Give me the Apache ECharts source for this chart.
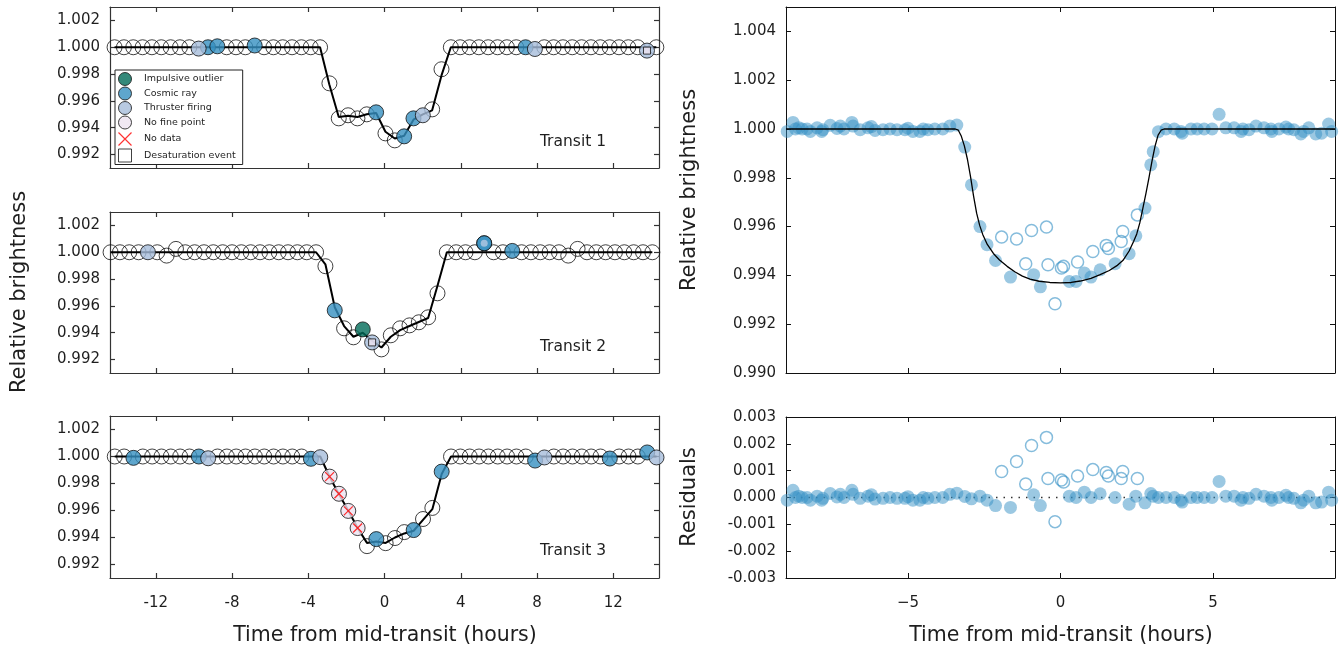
<!DOCTYPE html>
<html><head><meta charset="utf-8">
<script src="https://cdn.jsdelivr.net/npm/echarts@6.0.0/dist/echarts.min.js"></script>
<style>html,body{margin:0;padding:0;background:#fff;}#c{width:1340px;height:649px;}</style>
</head><body><div id="c"></div>
<script>
// ---------------- DATA ----------------
// Left: three individual transits (time in hours, relative brightness)
const t1Time = [-14.16,-13.67,-13.18,-12.69,-12.20,-11.71,-11.22,-10.73,-10.24,-9.75,-9.26,-8.77,-8.28,-7.79,-7.30,-6.81,-6.32,-5.83,-5.34,-4.85,-4.36,-3.87,-3.38,-2.89,-2.40,-1.91,-1.42,-0.93,-0.44,0.05,0.54,1.03,1.52,2.01,2.50,2.99,3.48,3.97,4.46,4.95,5.44,5.93,6.42,6.91,7.40,7.89,8.38,8.87,9.36,9.85,10.34,10.83,11.32,11.81,12.30,12.79,13.28,13.77,14.26];
const t1Flux = [1,1,1,1,1,1,1,1,1,0.99990,1.00000,1.00007,1,1,1,1.00013,1,1,1,1,1,1,1,0.99731,0.99470,0.99493,0.99470,0.99500,0.99515,0.99358,0.99306,0.99336,0.99470,0.99493,0.99537,0.99836,1,1,1,1,1,1,1,1,1.00000,0.99987,1,1,1,1,1,1,1,1,1,1,1,0.99975,1];
const t1Model = [1,1,1,1,1,1,1,1,1,1,1,1,1,1,1,1,1,1,1,1,1,1,1,0.9972,0.9948,0.9949,0.9948,0.9950,0.9951,0.9937,0.9932,0.9934,0.9946,0.9950,0.9953,0.9979,1,1,1,1,1,1,1,1,1,1,1,1,1,1,1,1,1,1,1,1,1,1,1];
const t1Cosmic = [10,11,15,28,31,32,44];
const t1Thruster = [9,33,45,57];
const t1Impulsive = [];
const t1NoFine = [];
const t1NoData = [];
const t1Desat = [57];
const t1CosmicThruster = [];

const t2Time = [-14.37,-13.88,-13.39,-12.90,-12.41,-11.92,-11.43,-10.94,-10.45,-9.96,-9.47,-8.98,-8.49,-8.00,-7.51,-7.02,-6.53,-6.04,-5.55,-5.06,-4.57,-4.08,-3.59,-3.10,-2.61,-2.12,-1.63,-1.14,-0.65,-0.16,0.33,0.82,1.31,1.80,2.29,2.78,3.27,3.76,4.25,4.74,5.23,5.72,6.21,6.70,7.19,7.68,8.17,8.66,9.15,9.64,10.13,10.62,11.11,11.60,12.09,12.58,13.07,13.56,14.05];
const t2Flux = [1,1,1,1,1.00000,1,0.99975,1.00025,1,1,1,1,1,1,1,1,1,1,1,1,1,1,1,0.99896,0.99567,0.99433,0.99366,0.99425,0.99328,0.99276,0.99381,0.99433,0.99455,0.99478,0.99515,0.99694,1,1,1,1,1.00067,1,1,1.00010,1,1,1,1,1,0.99975,1.00025,1,1,1,1,1,1,1,1];
const t2Model = [1,1,1,1,1,1,1,1,1,1,1,1,1,1,1,1,1,1,1,1,1,1,1,0.9991,0.9959,0.9945,0.9937,0.9940,0.9934,0.9929,0.9937,0.9942,0.9945,0.9948,0.9951,0.9975,1,1,1,1,1,1,1,1,1,1,1,1,1,1,1,1,1,1,1,1,1,1,1];
const t2Cosmic = [24,40,43];
const t2Thruster = [4,28];
const t2Impulsive = [27];
const t2NoFine = [];
const t2NoData = [];
const t2Desat = [28];
const t2CosmicThruster = [40];

const t3Time = [-14.15,-13.66,-13.17,-12.68,-12.19,-11.70,-11.21,-10.72,-10.23,-9.74,-9.25,-8.76,-8.27,-7.78,-7.29,-6.80,-6.31,-5.82,-5.33,-4.84,-4.35,-3.86,-3.37,-2.88,-2.39,-1.90,-1.41,-0.92,-0.43,0.06,0.55,1.04,1.53,2.02,2.51,3.00,3.49,3.98,4.47,4.96,5.45,5.94,6.43,6.92,7.41,7.90,8.39,8.88,9.37,9.86,10.35,10.84,11.33,11.82,12.31,12.80,13.29,13.78,14.27];
const t3Flux = [1,1,0.99990,1,1,1,1,1,1,1.00000,0.99987,1,1,1,1,1,1,1,1,1,1,0.99983,0.99995,0.99851,0.99724,0.99597,0.99470,0.99336,0.99388,0.99358,0.99396,0.99440,0.99455,0.99537,0.99619,0.99888,1,1,1,1,1,1,1,1,1,0.99970,0.99993,1,1,1,1,1,1,0.99985,1,1,1,1.00030,0.99993];
const t3Model = [1,1,1,1,1,1,1,1,1,1,1,1,1,1,1,1,1,1,1,1,1,1,1,0.9985,0.9972,0.9960,0.9947,0.9936,0.9937,0.9936,0.9940,0.9943,0.9945,0.9953,0.9961,0.9987,1,1,1,1,1,1,1,1,1,1,1,1,1,1,1,1,1,1,1,1,1,1,1];
const t3Cosmic = [2,9,21,28,32,35,45,53,57];
const t3Thruster = [10,22,46,58];
const t3Impulsive = [];
const t3NoFine = [23,24,25,26];
const t3NoData = [23,24,25,26];
const t3Desat = [];
const t3CosmicThruster = [];

// Right: folded light curve
const foldTime = [-8.96,-8.77,-8.69,-8.58,-8.47,-8.31,-8.20,-7.98,-7.83,-7.79,-7.55,-7.33,-7.22,-7.10,-6.84,-6.80,-6.57,-6.31,-6.20,-6.08,-5.82,-5.59,-5.36,-5.10,-5.00,-4.84,-4.61,-4.50,-4.35,-4.12,-3.86,-3.63,-3.40,
  -3.14,-2.92,-2.64,-2.41,-2.13,-1.64,-0.88,-0.66,0.29,0.51,0.78,1.00,1.30,1.79,2.25,2.47,2.77,2.96,3.04,3.21,
  3.46,3.73,3.95,3.99,4.28,4.48,4.71,4.97,5.20,5.42,5.69,5.92,5.98,6.18,6.41,6.67,6.90,6.93,7.16,7.39,7.48,7.65,7.88,7.97,8.14,8.37,8.56,8.79,8.89];
const foldFlux = [0.99990,1.00027,1.00000,1.00005,1.00000,1.00000,0.99990,1.00005,0.99990,0.99997,1.00015,1.00002,1.00012,1.00000,1.00027,1.00012,0.99997,1.00005,1.00010,0.99994,0.99997,1.00000,0.99997,0.99997,1.00003,0.99990,0.99990,1.00000,0.99997,1.00000,1.00000,1.00012,1.00016,
  0.99926,0.99771,0.99600,0.99526,0.99461,0.99393,0.99403,0.99353,0.99375,0.99375,0.99410,0.99393,0.99423,0.99448,0.99489,0.99562,0.99676,0.99853,0.99907,0.99989,
  1.00000,1.00000,0.99990,0.99983,1.00000,1.00000,1.00000,1.00000,1.00060,1.00005,1.00005,0.99990,1.00000,0.99997,1.00012,1.00005,1.00000,0.99990,1.00000,1.00008,1.00000,0.99997,0.99980,0.99990,1.00005,0.99980,0.99983,1.00020,0.99990];
const foldResid = [-0.00010,0.00027,0.00000,0.00005,0.00000,0.00000,-0.00010,0.00005,-0.00010,-0.00003,0.00015,0.00002,0.00012,0.00000,0.00027,0.00012,-0.00003,0.00005,0.00010,-0.00006,-0.00003,0.00000,-0.00003,-0.00003,0.00003,-0.00010,-0.00010,0.00000,-0.00003,0.00000,0.00000,0.00012,0.00016,
  0.00004,-0.00005,0.00005,-0.00010,-0.00030,-0.00037,0.00010,-0.00030,0.00005,0.00000,0.00020,0.00000,0.00014,0.00000,-0.00025,0.00005,-0.00020,0.00015,0.00005,0.00000,
  0.00000,0.00000,-0.00010,-0.00017,0.00000,0.00000,0.00000,0.00000,0.00060,0.00005,0.00005,-0.00010,0.00000,-0.00003,0.00012,0.00005,0.00000,-0.00010,0.00000,0.00008,0.00000,-0.00003,-0.00020,-0.00010,0.00005,-0.00020,-0.00017,0.00020,-0.00010];
const outTime = [-1.93,-1.44,-1.14,-0.95,-0.46,-0.41,-0.18,0.03,0.10,0.56,1.06,1.50,1.57,1.99,2.04,2.52];
const outFlux = [0.99557,0.99549,0.99448,0.99584,0.99598,0.99444,0.99284,0.99430,0.99437,0.99455,0.99498,0.99523,0.99510,0.99539,0.99580,0.99648];
const outResid = [0.00097,0.00134,0.00050,0.00194,0.00224,0.00071,-0.00090,0.00065,0.00058,0.00080,0.00104,0.00093,0.00080,0.00071,0.00097,0.00071];
const fitTime = [-9,-3.45,-3.35,-3.25,-3.15,-3.05,-2.95,-2.85,-2.75,-2.65,-2.55,-2.40,-2.20,-2.00,-1.75,-1.50,-1.25,-1.00,-0.70,-0.35,0.00,0.35,0.65,1.00,1.30,1.60,1.85,2.05,2.25,2.40,2.50,2.60,2.70,2.80,2.90,3.00,3.10,3.20,3.30,3.40,9];
const fitFlux = [1,1,0.99995,0.99970,0.99930,0.99875,0.99805,0.99725,0.99655,0.99605,0.99568,0.99527,0.99490,0.99463,0.99437,0.99415,0.99397,0.99385,0.99376,0.99371,0.99369,0.99371,0.99377,0.99388,0.99403,0.99420,0.99440,0.99462,0.99500,0.99540,0.99570,0.99615,0.99675,0.99735,0.99800,0.99868,0.99930,0.99975,0.99995,1,1];

// Ticks
const leftXTicks = [-12,-8,-4,0,4,8,12];
const leftYTicks = [0.992,0.994,0.996,0.998,1.000,1.002];
const rightXTicks = [-5,0,5];
const rightYTicks = [0.990,0.992,0.994,0.996,0.998,1.000,1.002,1.004];
const residTicks = [-0.003,-0.002,-0.001,0,0.001,0.002,0.003];
const transitLabels = ['Transit 1','Transit 2','Transit 3'];

// ---------------- BUILD ----------------
const FONT = 'DejaVu Sans';
const TXT = '#1e1e1e';
const COL = {impulsive:'#016c59', cosmic:'#3690c0', thruster:'#a6bddb', nofine:'#ece2f0'};
const grids = [
  {left:110, top:7, width:549, height:161},
  {left:110, top:212, width:549, height:161},
  {left:110, top:416, width:549, height:162},
  {left:786, top:7, width:549, height:366},
  {left:786, top:417, width:549, height:161}
];
const xAxes = [], yAxes = [], series = [];
function addAxes(gi, xr, yr, xTicks, yTicks, showX, xFmt, yFmt, lc, lw) {
  const line = {show:true, onZero:false, lineStyle:{color:lc, width:lw}};
  const tick = (vals) => ({show:true, inside:true, length:5, customValues:vals, lineStyle:{color:lc, width:lw}});
  const lab = {fontSize:15, color:TXT, fontFamily:FONT};
  xAxes.push({gridIndex:gi, type:'value', min:xr[0], max:xr[1], position:'bottom', axisLine:line, axisTick:tick(xTicks),
    axisLabel:Object.assign({show:showX, customValues:xTicks, formatter:xFmt, margin:18}, lab), splitLine:{show:false}});
  xAxes.push({gridIndex:gi, type:'value', min:xr[0], max:xr[1], position:'top', axisLine:line, axisTick:tick(xTicks),
    axisLabel:{show:false}, splitLine:{show:false}});
  yAxes.push({gridIndex:gi, type:'value', min:yr[0], max:yr[1], position:'left', axisLine:line, axisTick:tick(yTicks),
    axisLabel:Object.assign({show:true, customValues:yTicks, formatter:yFmt, margin:10}, lab), splitLine:{show:false}});
  yAxes.push({gridIndex:gi, type:'value', min:yr[0], max:yr[1], position:'right', axisLine:line, axisTick:tick(yTicks),
    axisLabel:{show:false}, splitLine:{show:false}});
}
const f3 = v => v.toFixed(3);
const leftFmt = v => String(v);
const rightFmt = v => v < 0 ? '\u2212' + (-v) : String(v);
for (let g = 0; g < 3; g++) addAxes(g, [-14.4,14.4], [0.991,1.003], leftXTicks, leftYTicks, g === 2, leftFmt, f3, '#333', 1.2);
addAxes(3, [-9,9], [0.990,1.005], rightXTicks, rightYTicks, false, rightFmt, f3, '#111', 1);
addAxes(4, [-9,9], [-0.003,0.003], rightXTicks, residTicks, true, rightFmt, f3, '#111', 1);

const pick = (time, vals, idx) => idx.map(i => [time[i], vals[i]]);
function transit(gi, time, flux, model, fl) {
  const ax = {xAxisIndex:gi*2, yAxisIndex:gi*2};
  const flagged = new Set([].concat(fl.cosmic, fl.thruster, fl.impulsive, fl.nofine, fl.ct));
  const openIdx = time.map((_, i) => i).filter(i => !flagged.has(i));
  const base = {type:'scatter', silent:true, animation:false, symbolSize:15};
  series.push(Object.assign({}, base, ax, {name:'open'+gi, z:2, data:pick(time, flux, openIdx),
    itemStyle:{color:'rgba(255,255,255,0)', borderColor:'#111', borderWidth:1}}));
  series.push(Object.assign({type:'line', silent:true, animation:false, showSymbol:false, symbol:'none', z:3,
    data:time.map((t, i) => [t, model[i]]), lineStyle:{color:'#000', width:2}}, ax));
  const col = (name, idx, c) => series.push(Object.assign({}, base, ax, {name, z:4, data:pick(time, flux, idx),
    itemStyle:{color:c, borderColor:'#111', borderWidth:1}}));
  col('Impulsive outlier', fl.impulsive, COL.impulsive);
  col('Cosmic ray', fl.cosmic.concat(fl.ct), COL.cosmic);
  col('Thruster firing', fl.thruster, COL.thruster);
  col('No fine point', fl.nofine, COL.nofine);
  series.push(Object.assign({}, base, ax, {name:'ct'+gi, z:5, symbolSize:7, data:pick(time, flux, fl.ct),
    itemStyle:{color:'#b4c8e2', borderWidth:0}}));
  series.push(Object.assign({}, base, ax, {name:'No data', z:6, symbol:'path://M0,0L10,10M10,0L0,10', symbolSize:9,
    data:pick(time, flux, fl.nodata), itemStyle:{color:'none', borderColor:'#ff0000', borderWidth:1.3}}));
  series.push(Object.assign({}, base, ax, {name:'Desaturation event', z:6, symbol:'rect', symbolSize:7,
    data:pick(time, flux, fl.desat), itemStyle:{color:COL.nofine, borderColor:'#111', borderWidth:1}}));
}
transit(0, t1Time, t1Flux, t1Model, {cosmic:t1Cosmic, thruster:t1Thruster, impulsive:t1Impulsive, nofine:t1NoFine, nodata:t1NoData, desat:t1Desat, ct:t1CosmicThruster});
transit(1, t2Time, t2Flux, t2Model, {cosmic:t2Cosmic, thruster:t2Thruster, impulsive:t2Impulsive, nofine:t2NoFine, nodata:t2NoData, desat:t2Desat, ct:t2CosmicThruster});
transit(2, t3Time, t3Flux, t3Model, {cosmic:t3Cosmic, thruster:t3Thruster, impulsive:t3Impulsive, nofine:t3NoFine, nodata:t3NoData, desat:t3Desat, ct:t3CosmicThruster});

// right panels
const FILL = 'rgba(52,143,196,0.62)';
const EDGE = 'rgba(52,143,196,0.75)';
const zip = (a, b) => a.map((v, i) => [v, b[i]]);
series.push({type:'scatter', name:'fold', xAxisIndex:6, yAxisIndex:6, silent:true, animation:false, z:2, symbolSize:13,
  data:zip(foldTime, foldFlux), itemStyle:{color:FILL, borderWidth:0}});
series.push({type:'scatter', name:'foldOut', xAxisIndex:6, yAxisIndex:6, silent:true, animation:false, z:2, symbolSize:12,
  data:zip(outTime, outFlux), itemStyle:{color:'rgba(255,255,255,0)', borderColor:EDGE, borderWidth:1.5}});
series.push({type:'line', xAxisIndex:6, yAxisIndex:6, silent:true, animation:false, z:3, showSymbol:false, symbol:'none',
  data:zip(fitTime, fitFlux), lineStyle:{color:'#000', width:1.3}});
series.push({type:'line', xAxisIndex:8, yAxisIndex:8, silent:true, animation:false, z:1, showSymbol:false, symbol:'none',
  data:[[-9,0],[9,0]], lineStyle:{color:'#333', width:1.5, type:[1.5,6]}});
series.push({type:'scatter', name:'resid', xAxisIndex:8, yAxisIndex:8, silent:true, animation:false, z:2, symbolSize:13,
  data:zip(foldTime, foldResid), itemStyle:{color:FILL, borderWidth:0}});
series.push({type:'scatter', name:'residOut', xAxisIndex:8, yAxisIndex:8, silent:true, animation:false, z:2, symbolSize:12,
  data:zip(outTime, outResid), itemStyle:{color:'rgba(255,255,255,0)', borderColor:EDGE, borderWidth:1.5}});

const txt = (text, x, y, size, rot) => ({type:'text', x, y, rotation:rot || 0, silent:true, z:10,
  style:{text, fontSize:size, fontFamily:FONT, fill:TXT, align:'center', verticalAlign:'middle'}});
const graphic = [
  txt('Relative brightness', 20, 292, 21, Math.PI/2),
  txt('Time from mid-transit (hours)', 385, 636, 20.5),
  txt('Relative brightness', 690, 190, 21, Math.PI/2),
  txt('Residuals', 690, 497, 21, Math.PI/2),
  txt('Time from mid-transit (hours)', 1061, 636, 20.5),
  txt(transitLabels[0], 573, 142, 15.5),
  txt(transitLabels[1], 573, 347, 15.5),
  txt(transitLabels[2], 573, 551, 15.5)
];

const legend = {
  left:115, top:70, orient:'vertical', selectedMode:false,
  padding:[2,7,2,1], itemGap:0.5, itemWidth:28, itemHeight:13,
  backgroundColor:'#fff', borderColor:'#222', borderWidth:1, borderRadius:0,
  textStyle:{fontSize:9.5, fontFamily:FONT, color:TXT},
  data:[
    {name:'Impulsive outlier', icon:'circle', itemStyle:{color:COL.impulsive, borderColor:'#111', borderWidth:1}},
    {name:'Cosmic ray', icon:'circle', itemStyle:{color:COL.cosmic, borderColor:'#111', borderWidth:1}},
    {name:'Thruster firing', icon:'circle', itemStyle:{color:COL.thruster, borderColor:'#111', borderWidth:1}},
    {name:'No fine point', icon:'circle', itemStyle:{color:COL.nofine, borderColor:'#111', borderWidth:1}},
    {name:'No data', icon:'path://M0,0L10,10M10,0L0,10', itemStyle:{color:'none', borderColor:'#ff0000', borderWidth:1.2}},
    {name:'Desaturation event', icon:'path://M0,0L10,0L10,10L0,10Z', itemStyle:{color:'#fff', borderColor:'#111', borderWidth:1}}
  ]
};

const chart = echarts.init(document.getElementById('c'), null, {renderer:'canvas'});
chart.setOption({animation:false, backgroundColor:'#fff', grid:grids, xAxis:xAxes, yAxis:yAxes, series, legend, graphic});
</script></body></html>
